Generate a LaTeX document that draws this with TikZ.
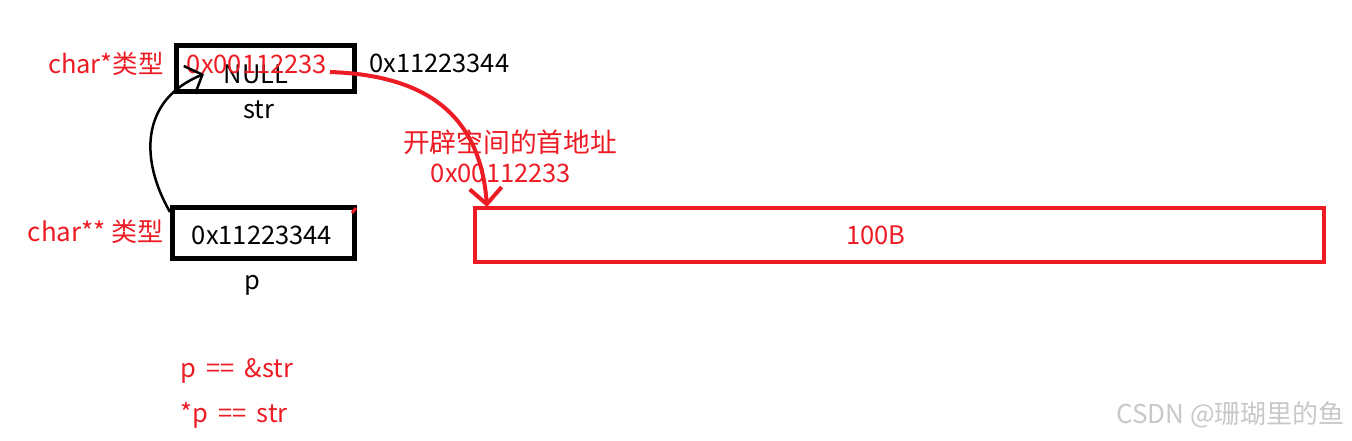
\documentclass[tikz,border=0pt]{standalone}
\usepackage{fontspec}
\setmainfont{Noto Sans CJK SC}
\newfontfamily\widefont[WordSpace=1.8]{Noto Sans CJK SC}
\usetikzlibrary{arrows.meta}
\definecolor{myred}{HTML}{ED1C24}
\definecolor{wm}{HTML}{C8C8C8}
\tikzset{
  blackbox/.style={draw=black, line width=5, minimum width=178, minimum height=46, inner sep=0},
  redbox/.style={draw=myred, line width=4, minimum width=849, minimum height=54, inner sep=0},
  lbl/.style={inner sep=0, font=\fontsize{25.5}{30}\selectfont},
  rlbl/.style={lbl, text=myred},
  blackarrow/.style={line width=2.5, -{Straight Barb[length=14, width=30]}},
  redarrow/.style={draw=myred, line width=4, -{Straight Barb[length=16, width=32]}}
}
\begin{document}
\begin{tikzpicture}[x=1pt,y=-1pt]
\useasboundingbox (0,0) rectangle (1352,440);
% str box
\node[blackbox] (strbox) at (265,68) {};
\node[lbl, anchor=center] (null) at (256,74) {NULL};
\node[rlbl, anchor=center] (straddr) at (257,64) {0x00112233};
\node[rlbl, anchor=east, font=\fontsize{25.5}{30}\selectfont] (strtype) at (164,64) {char*类型};
\node[lbl, anchor=west] (stradr2) at (369,63) {0x11223344};
\node[lbl] (strname) at (259,110) {str};
% p box
\node[blackbox, minimum width=182, minimum height=51] (pbox) at (263,233) {};
\node[lbl] (pval) at (262,235) {0x11223344};
\node[rlbl, anchor=east, font=\fontsize{26}{30}\selectfont] (ptype) at (164,232) {char** 类型};
\node[lbl] (pname) at (252,285) {p};
% heap block
\node[redbox] (heap) at (899.5,234.5) {};
\node[rlbl] (size) at (876,235) {100B};
\node[rlbl, font=\fontsize{26.75}{30}\selectfont] (heaplbl) at (510,142) {开辟空间的首地址};
\node[rlbl] (heapaddr) at (501,173) {0x00112233};
% relations
\node[rlbl, anchor=west, font=\widefont\fontsize{25.5}{30}\selectfont] (rel1) at (180,371) {p == \&str};
\node[rlbl, anchor=west, font=\widefont\fontsize{25.5}{30}\selectfont] (rel2) at (180,415) {*p == str};
% watermark
\node[inner sep=0, anchor=east, text=wm, font=\fontsize{26}{29}\selectfont] (wmark) at (1345,415) {CSDN @珊瑚里的鱼};
% connectors
\coordinate (bstart) at (170,212);
\coordinate (bend) at (204,74);
\draw[blackarrow] (bstart) .. controls (140,160) and (140,100) .. (bend);
\coordinate (rstart) at (330,72);
\coordinate (rend) at (487,207);
\draw[redarrow] (rstart) .. controls (420,75) and (480,110) .. (rend);
\draw[myred, line width=3] (352,213) -- (356,208);
\end{tikzpicture}
\end{document}
